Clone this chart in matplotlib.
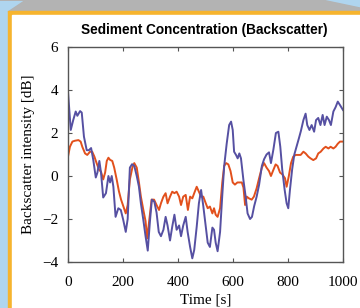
import numpy as np
import matplotlib
matplotlib.use('Agg')
import matplotlib.pyplot as plt
from matplotlib.patches import Polygon, Rectangle

# blue series (time [s], backscatter [dB])
t_blue = [0, 10, 19, 28, 34, 44, 50, 58, 68, 76, 84, 92, 101, 107, 114, 120, 128, 138, 147, 153,
          159, 165, 173, 183, 192, 201, 210, 217, 225, 233, 241, 250, 258, 265, 274, 282, 290, 298,
          305, 314, 322, 330, 338, 347, 355, 362, 371, 379, 387, 395, 404, 411, 419, 428, 435, 444,
          452, 459, 468, 476, 484, 492, 501, 508, 516, 525, 531, 537, 544, 553, 561, 568, 577, 586,
          593, 599, 604, 611, 617, 623, 629, 638, 646, 653, 662, 669, 677, 686, 695, 705, 713, 722,
          731, 738, 747, 756, 765, 772, 779, 788, 795, 801, 807, 815, 823, 832, 840, 847, 856, 864,
          870, 878, 886, 895, 902, 910, 918, 926, 933, 941, 949, 956, 965, 973, 981, 989, 996, 1000]
v_blue = [3.92, 2.14, 2.6, 3.0, 2.8, 3.02, 2.95, 1.83, 1.2, 1.2, 1.3, 0.74, -0.07, 0.16, 0.7, 0.16,
          -1.0, -0.8, 0.0, -0.3, 0.0, -0.5, -1.9, -1.5, -1.58, -2.05, -2.6, -2.0, 0.39, 0.55, 0.47,
          0.0, -0.5, -1.27, -2.05, -2.8, -3.47, -2.1, -1.1, -1.2, -1.7, -2.6, -2.8, -2.5, -1.9, -2.3,
          -3.0, -2.36, -1.8, -2.5, -2.3, -2.8, -2.3, -1.9, -2.6, -3.3, -3.83, -3.44, -2.36, -1.27,
          -0.65, -1.4, -2.36, -3.1, -3.3, -2.4, -2.5, -3.1, -3.5, -2.6, -0.9, 0.47, 1.5, 2.37, 2.53,
          2.14, 1.13, 0.98, 0.82, 1.05, 0.82, -0.2, -0.96, -1.74, -2.0, -1.9, -1.4, -0.96, -0.4, 0.47,
          0.78, 1.0, 1.1, 0.6, 1.24, 2.0, 2.06, 1.36, 0.3, -0.66, -1.27, -1.5, -0.66, 0.3, 1.0, 1.4,
          1.77, 2.1, 2.6, 2.9, 2.37, 2.14, 2.37, 2.06, 2.6, 2.7, 2.37, 2.84, 2.37, 2.76, 2.6, 2.37,
          3.0, 3.2, 3.46, 3.3, 3.15, 3.07]

# orange series
t_orange = [0, 7, 16, 25, 38, 46, 52, 62, 70, 80, 88, 96, 104, 113, 120, 128, 135, 141, 147, 153,
            161, 168, 177, 185, 193, 201, 210, 217, 225, 234, 241, 250, 258, 265, 274, 282, 288,
            296, 304, 313, 322, 331, 338, 347, 355, 362, 371, 379, 387, 395, 404, 411, 419, 428,
            436, 444, 452, 461, 468, 476, 484, 492, 501, 508, 516, 525, 531, 537, 544, 553, 561,
            568, 575, 583, 591, 599, 607, 616, 623, 632, 638, 644, 650, 658, 668, 676, 686, 695,
            705, 713, 722, 731, 738, 747, 755, 762, 771, 779, 789, 795, 803, 811, 819, 828, 837,
            846, 856, 864, 874, 882, 892, 902, 910, 919, 929, 937, 947, 955, 965, 973, 981, 989, 999]
v_orange = [0.9, 1.36, 1.6, 1.64, 1.67, 1.6, 1.36, 1.05, 0.98, 1.13, 1.13, 0.9, 0.6, 0.29, 0.2,
            -0.16, 0.16, 0.7, 0.85, 0.75, 0.7, 0.39, -0.16, -0.7, -1.1, -1.4, -1.74, -1.35, -0.16,
            0.39, 0.6, 0.39, -0.3, -0.96, -1.58, -2.1, -2.9, -2.0, -1.1, -1.1, -1.35, -1.58, -1.27,
            -0.96, -0.8, -1.27, -0.96, -0.73, -0.8, -0.73, -0.96, -1.35, -0.96, -0.88, -1.58, -0.96,
            -1.04, -0.73, -0.5, -0.73, -0.96, -0.96, -1.27, -1.5, -1.42, -1.74, -1.5, -1.8, -1.9,
            -1.5, -0.3, 0.47, 0.6, 0.54, 0.23, -0.3, -0.4, -0.3, -0.3, -0.3, -0.54, -1.35, -0.96,
            -1.04, -1.1, -0.96, -0.57, -0.1, 0.39, 0.6, 0.39, 0.23, 0.0, 0.29, 0.54, 0.47, 0.16,
            0.08, -0.1, -0.5, 0.0, 0.6, 0.9, 0.98, 0.98, 0.98, 1.13, 1.05, 0.9, 0.82, 0.74, 0.82,
            1.05, 1.13, 1.28, 1.36, 1.28, 1.36, 1.28, 1.36, 1.5, 1.6, 1.6]

xticks = [0, 200, 400, 600, 800, 1000]
yticks = [-4, -2, 0, 2, 4, 6]

fig = plt.figure(figsize=(3.6, 3.08), dpi=100)
fig.patch.set_facecolor('white')

# decorative slide frame
W, H = 360, 308
def px(x, y):
    return (x / W, 1 - y / H)
fig.patches.append(Rectangle(px(0, H), 1, 1, transform=fig.transFigure, color='#afd5ef', zorder=-5))
fig.patches.append(Polygon([px(0, 0), px(322, 0), px(360, 8), px(360, 12), px(8, 12), px(26, 0)],
                           closed=True, transform=fig.transFigure, color='#b3b3b3', zorder=-4))
fig.patches.append(Rectangle(px(8, H), 1, 1 - 11 / H, transform=fig.transFigure, color='#f6b42e', zorder=-3))
fig.patches.append(Rectangle(px(12, H), 1, 1 - 15 / H, transform=fig.transFigure, color='white', zorder=-2))

ax = fig.add_axes([68 / W, 1 - 262 / H, (343 - 68) / W, (262 - 47) / H])
ax.plot(t_orange, v_orange, color='#e2501c', lw=1.4)
ax.plot(t_blue, v_blue, color='#5650a2', lw=1.4)

ax.set_xlim(0, 1000)
ax.set_ylim(-4, 6)
ax.set_xticks(xticks)
ax.set_yticks(yticks)
ax.tick_params(direction='in', top=True, right=True, length=3, color='#555555')
ax.tick_params(axis='x', pad=10)
ax.tick_params(axis='y', pad=7)
for s in ax.spines.values():
    s.set_color('#555555')
    s.set_linewidth(1.0)
for lab in ax.get_xticklabels() + ax.get_yticklabels():
    lab.set_family('Liberation Serif')
    lab.set_fontsize(11)
ax.set_xlabel('Time [s]', family='Liberation Serif', fontsize=11, labelpad=3)
ax.set_ylabel('Backscatter intensity [dB]', family='Liberation Serif', fontsize=11, labelpad=5)
fig.text(204 / W, 1 - 30 / H, 'Sediment Concentration (Backscatter)', ha='center', va='center',
         family='Liberation Sans', fontweight='bold', fontsize=9.8)

fig.savefig('out.png', dpi=100)
